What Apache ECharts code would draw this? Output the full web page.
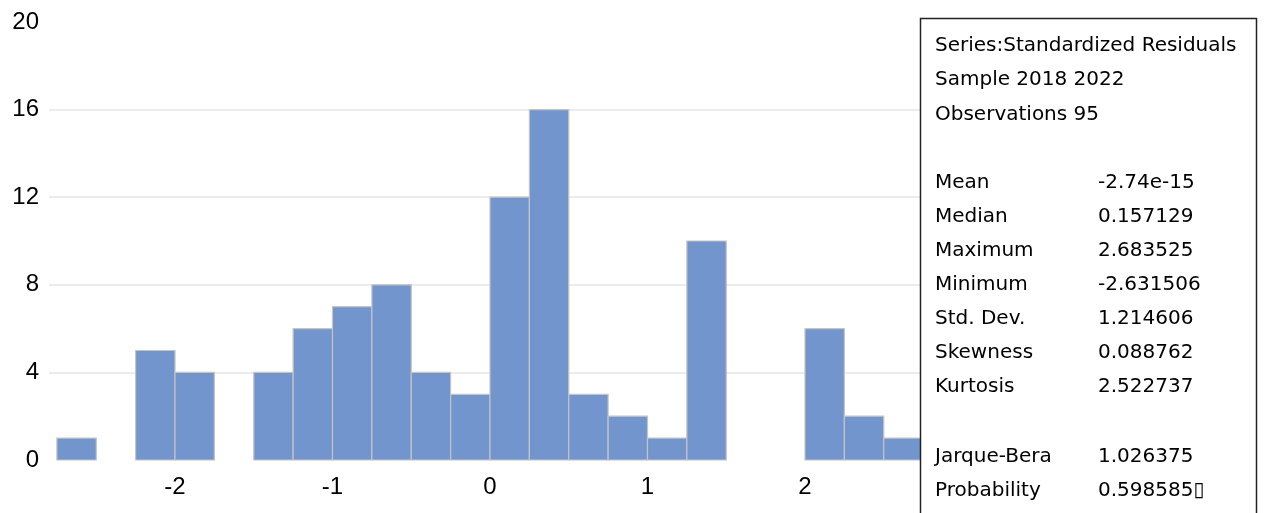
<!DOCTYPE html>
<html>
<head>
<meta charset="utf-8">
<script src="https://cdn.jsdelivr.net/npm/echarts@6/dist/echarts.min.js"></script>
<style>
  html, body { margin: 0; padding: 0; background: #fff; }
  #chart { width: 1265px; height: 513px; }
</style>
</head>
<body>
<div id="chart"></div>
<script>
// histogram bins (lower edge) and counts
let binLow = [-2.75, -2.25, -2.0, -1.5, -1.25, -1.0, -0.75, -0.5, -0.25, 0, 0.25, 0.5, 0.75, 1.0, 1.25, 2.0, 2.25, 2.5];
let binHigh = [-2.5, -2.0, -1.75, -1.25, -1.0, -0.75, -0.5, -0.25, 0, 0.25, 0.5, 0.75, 1.0, 1.25, 1.5, 2.25, 2.5, 2.75];
let counts = [1, 5, 4, 4, 6, 7, 8, 4, 3, 12, 16, 3, 2, 1, 10, 6, 2, 1];
let xTicks = [-2, -1, 0, 1, 2];

// stats box
let headerLines = ['Series:Standardized Residuals', 'Sample 2018 2022', 'Observations 95'];
let statNames = ['Mean', 'Median', 'Maximum', 'Minimum', 'Std. Dev.', 'Skewness', 'Kurtosis'];
let statValues = ['-2.74e-15', '0.157129', '2.683525', '-2.631506', '1.214606', '0.088762', '2.522737'];
let testNames = ['Jarque-Bera', 'Probability'];
let testValues = ['1.026375', '0.598585\u25AF'];

let chart = echarts.init(document.getElementById('chart'));

let histData = binLow.map((v, i) => [v, binHigh[i], counts[i]]);

let font = '"Liberation Sans", Arial, sans-serif';
let boxFont = '20px "DejaVu Sans", sans-serif';

// 统计表文字
let boxText = [];
function addText(t, x, y) {
    boxText.push({ type: 'text', z: 101, x: x, y: y, style: { text: t, font: boxFont, fill: '#000', verticalAlign: 'middle' } });
}
let lineY = 46;
headerLines.forEach(t => {
    addText(t, 935, lineY);
    lineY += 34.2;
});
lineY = 183;
statNames.forEach((t, i) => {
    addText(t, 935, lineY);
    addText(statValues[i], 1098, lineY);
    lineY += 34;
});
lineY = 457;
testNames.forEach((t, i) => {
    addText(t, 935, lineY);
    addText(testValues[i], 1098, lineY);
    lineY += 34;
});

let option = {
    animation: false,
    backgroundColor: '#fff',
    grid: { left: 49, right: 334, top: 22, bottom: 53 },
    xAxis: {
        type: 'value',
        min: -2.8,
        max: 2.8,
        axisLine: { show: false },
        axisTick: { show: false },
        splitLine: { show: false },
        axisLabel: {
            customValues: xTicks,
            fontSize: 24,
            color: '#000',
            fontFamily: font,
            margin: 15
        }
    },
    yAxis: {
        type: 'value',
        min: 0,
        max: 20,
        interval: 4,
        axisLine: { show: false },
        axisTick: { show: false },
        axisLabel: { fontSize: 24, color: '#000', fontFamily: font, margin: 10 },
        splitLine: {
            show: true,
            lineStyle: { color: '#e6e6e6', width: 1.5 },
            showMinLine: false,
            showMaxLine: false
        }
    },
    series: [{
        type: 'custom',
        data: histData,
        renderItem: function (params, api) {
            let p0 = api.coord([api.value(0), api.value(2)]);
            let p1 = api.coord([api.value(1), 0]);
            return {
                type: 'rect',
                shape: { x: p0[0], y: p0[1], width: p1[0] - p0[0], height: p1[1] - p0[1] },
                style: { fill: '#7295cd', stroke: '#c4c4c4', lineWidth: 1.2 }
            };
        }
    }],
    graphic: [
        {
            type: 'rect',
            z: 100,
            shape: { x: 920.5, y: 18.5, width: 336, height: 510 },
            style: { fill: '#fff', stroke: '#222', lineWidth: 1.5 }
        }
    ].concat(boxText)
};

chart.setOption(option);
</script>
</body>
</html>
